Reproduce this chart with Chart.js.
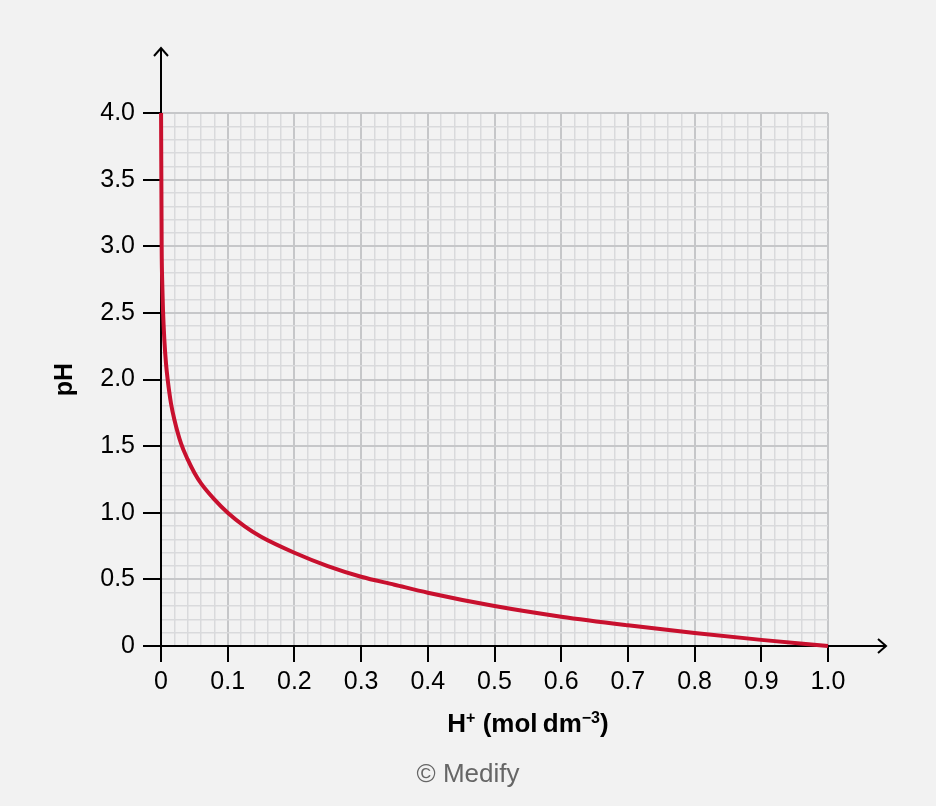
<!DOCTYPE html>
<html>
<head>
<meta charset="utf-8">
<script src="https://cdn.jsdelivr.net/npm/chart.js@4/dist/chart.umd.min.js"></script>
<style>
html,body{margin:0;padding:0;background:#f2f2f2;}
#wrap{width:936px;height:806px;position:relative;}
</style>
</head>
<body>
<div id="wrap"><canvas id="c" width="936" height="806"></canvas></div>
<script>
// Readings of the curve from the picture: H+ concentration and pH
const hConc = [0.0001, 0.001, 0.002, 0.003, 0.005, 0.0075, 0.01, 0.015, 0.02, 0.03, 0.04, 0.05, 0.06, 0.08, 0.1, 0.125, 0.15, 0.2, 0.25, 0.3, 0.35, 0.4, 0.5, 0.6, 0.7, 0.8, 0.9, 1.0];
const phValues = [4.0, 3.0, 2.7, 2.52, 2.3, 2.12, 2.0, 1.82, 1.7, 1.52, 1.4, 1.3, 1.22, 1.1, 1.0, 0.9, 0.82, 0.7, 0.6, 0.52, 0.46, 0.4, 0.3, 0.22, 0.155, 0.097, 0.046, 0.0];
const xTickLabels = ['0','0.1','0.2','0.3','0.4','0.5','0.6','0.7','0.8','0.9','1.0'];
const yTickLabels = ['0','0.5','1.0','1.5','2.0','2.5','3.0','3.5','4.0'];
// x title pieces: [text, isSuperscript]
const xTitleParts = [['H', false], ['+', true], [' (mol\u2009dm', false], ['\u22123', true], [')', false]];
const yTitle = 'pH';
const footer = '\u00A9 Medify';

const FONT = "'Liberation Sans', Arial, sans-serif";
const points = hConc.map((x, i) => ({x: x, y: phValues[i]}));

function isMajor(v, per) {
  const t = v * per;
  return Math.abs(t - Math.round(t)) < 1e-6;
}

const arrowPlugin = {
  id: 'arrows',
  afterDraw(chart) {
    const ctx = chart.ctx;
    const xs = chart.scales.x, ys = chart.scales.y;
    const x0 = xs.getPixelForValue(0);
    const y0 = ys.getPixelForValue(0);
    const top = chart.chartArea.top, right = chart.chartArea.right;
    ctx.save();
    ctx.strokeStyle = '#000';
    ctx.lineWidth = 2;
    ctx.lineCap = 'butt';
    ctx.beginPath();
    ctx.moveTo(x0, top);
    ctx.lineTo(x0, 48);
    ctx.stroke();
    ctx.beginPath();
    ctx.moveTo(x0 - 7, 56);
    ctx.lineTo(x0, 48);
    ctx.lineTo(x0 + 7, 56);
    ctx.stroke();
    ctx.beginPath();
    ctx.moveTo(right, y0);
    ctx.lineTo(886, y0);
    ctx.stroke();
    ctx.beginPath();
    ctx.moveTo(878, y0 - 7);
    ctx.lineTo(886, y0);
    ctx.lineTo(878, y0 + 7);
    ctx.stroke();

    // x-axis title with superscripts
    const mainFont = "bold 26px " + FONT;
    const supFont = "bold 16px " + FONT;
    let total = 0;
    xTitleParts.forEach(p => { ctx.font = p[1] ? supFont : mainFont; total += ctx.measureText(p[0]).width; });
    let cx = 528 - total / 2;
    const base = 732;
    ctx.fillStyle = '#000';
    ctx.textAlign = 'left';
    ctx.textBaseline = 'alphabetic';
    xTitleParts.forEach(p => {
      ctx.font = p[1] ? supFont : mainFont;
      ctx.fillText(p[0], cx, p[1] ? base - 9 : base);
      cx += ctx.measureText(p[0]).width;
    });

    ctx.fillStyle = '#666666';
    ctx.font = "26px " + FONT;
    ctx.textAlign = 'center';
    ctx.textBaseline = 'middle';
    ctx.fillText(footer, 468, 775);
    ctx.restore();
  }
};

new Chart(document.getElementById('c'), {
  type: 'scatter',
  data: {
    datasets: [{
      data: points,
      showLine: true,
      borderColor: '#c8102e',
      borderWidth: 4,
      pointRadius: 0,
      cubicInterpolationMode: 'monotone',
      fill: false,
      clip: false
    }]
  },
  options: {
    responsive: false,
    animation: false,
    devicePixelRatio: 1,
    layout: {padding: {left: 40, right: 108, top: 113, bottom: 60}},
    plugins: {legend: {display: false}, tooltip: {enabled: false}},
    scales: {
      x: {
        type: 'linear', min: 0, max: 1,
        afterFit(s) { s.height = 100; },
        afterBuildTicks(s) {
          const t = [];
          for (let i = 0; i <= 50; i++) t.push({value: i / 50});
          s.ticks = t;
        },
        ticks: {
          autoSkip: false, maxRotation: 0, padding: 5,
          color: '#000', font: {size: 25, family: FONT},
          callback(v) { return isMajor(v, 10) ? xTickLabels[Math.round(v * 10)] : ''; }
        },
        grid: {
          color: c => isMajor(c.tick.value, 10) ? '#c6c7c9' : '#d9dadc',
          lineWidth: c => isMajor(c.tick.value, 10) ? 2 : 1.5,
          tickColor: c => isMajor(c.tick.value, 10) ? '#000' : 'rgba(0,0,0,0)',
          tickWidth: 2, tickLength: 16, drawTicks: true
        },
        border: {color: '#000', width: 2},
        title: {display: false}
      },
      y: {
        type: 'linear', min: 0, max: 4,
        afterFit(s) { s.width = 121; },
        afterBuildTicks(s) {
          const t = [];
          for (let i = 0; i <= 40; i++) t.push({value: i / 10});
          s.ticks = t;
        },
        ticks: {
          autoSkip: false, padding: 8,
          color: '#000', font: {size: 25, family: FONT},
          callback(v) { return isMajor(v, 2) ? yTickLabels[Math.round(v * 2)] : ''; }
        },
        grid: {
          color: c => isMajor(c.tick.value, 2) ? '#c6c7c9' : '#d9dadc',
          lineWidth: c => isMajor(c.tick.value, 2) ? 2 : 1.5,
          tickColor: c => isMajor(c.tick.value, 2) ? '#000' : 'rgba(0,0,0,0)',
          tickWidth: 2, tickLength: 18, drawTicks: true
        },
        border: {color: '#000', width: 2},
        title: {
          display: true, text: yTitle, color: '#000',
          font: {size: 25, weight: 'bold', family: FONT},
          padding: {top: 10, bottom: 0}
        }
      }
    }
  },
  plugins: [arrowPlugin]
});
</script>
</body>
</html>
